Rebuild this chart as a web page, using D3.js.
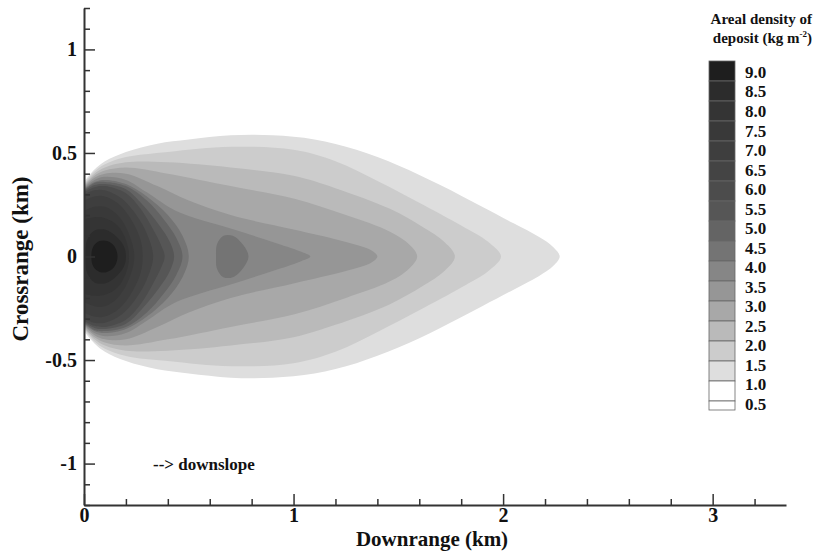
<!DOCTYPE html>
<html>
<head>
<meta charset="utf-8">
<script src="https://cdn.jsdelivr.net/npm/d3@7"></script>
<style>
  body { margin: 0; background: #fff; }
  text { font-family: "Liberation Serif", "Times New Roman", serif; font-weight: bold; fill: #111; }
</style>
</head>
<body>
<svg width="817" height="552"></svg>
<script>
// legend levels (top to bottom) and their gray shade
const legendLabels = ["9.0", "8.5", "8.0", "7.5", "7.0", "6.5", "6.0", "5.5", "5.0", "4.5", "4.0", "3.5", "3.0", "2.5", "2.0", "1.5", "1.0", "0.5"];
const legendGrays = [30, 44, 52, 57, 62, 68, 76, 86, 100, 116, 134, 150, 168, 186, 204, 222, 255, 255];

// contour levels, each as the upper half of its outline [downrange km, crossrange km]
// (the plume is close to symmetric about crossrange 0)
const contourLevels = ["1.5", "2.0", "2.5", "3.0", "3.5", "4.0", "4.5", "5.0", "5.5", "6.0", "6.5", "7.0", "7.5", "8.0", "8.5", "9.0"];
const contourUpper = [
  [[0, 0.36], [0.05, 0.42], [0.1, 0.46], [0.2, 0.505], [0.35, 0.545], [0.5, 0.565], [0.7, 0.585], [0.9, 0.585], [1.1, 0.565], [1.3, 0.515], [1.5, 0.44], [1.7, 0.345], [1.9, 0.24], [2.05, 0.16], [2.17, 0.095], [2.24, 0.045], [2.27, 0]],
  [[0, 0.35], [0.05, 0.41], [0.1, 0.445], [0.2, 0.48], [0.4, 0.505], [0.7, 0.53], [1.0, 0.515], [1.2, 0.46], [1.41, 0.36], [1.6, 0.26], [1.8, 0.15], [1.93, 0.07], [1.99, 0]],
  [[0, 0.345], [0.05, 0.40], [0.1, 0.43], [0.2, 0.455], [0.4, 0.455], [0.7, 0.43], [1.0, 0.39], [1.2, 0.33], [1.46, 0.23], [1.62, 0.14], [1.72, 0.07], [1.77, 0]],
  [[0, 0.34], [0.05, 0.39], [0.1, 0.415], [0.2, 0.43], [0.4, 0.40], [0.7, 0.34], [1.0, 0.28], [1.25, 0.2], [1.46, 0.12], [1.55, 0.06], [1.59, 0]],
  [[0, 0.335], [0.05, 0.38], [0.1, 0.40], [0.2, 0.40], [0.35, 0.34], [0.5, 0.27], [0.7, 0.2], [1.0, 0.13], [1.25, 0.07], [1.37, 0.03], [1.40, 0]],
  [[0, 0.33], [0.05, 0.37], [0.1, 0.385], [0.2, 0.37], [0.3, 0.31], [0.44, 0.22], [0.7, 0.135], [0.9, 0.07], [1.03, 0.025], [1.08, 0]],
  [[0, 0.325], [0.05, 0.36], [0.1, 0.37], [0.2, 0.35], [0.3, 0.29], [0.4, 0.2], [0.47, 0.1], [0.5, 0]],
  [[0, 0.32], [0.05, 0.355], [0.1, 0.36], [0.2, 0.34], [0.3, 0.27], [0.38, 0.18], [0.44, 0.09], [0.47, 0]],
  [[0, 0.315], [0.05, 0.345], [0.1, 0.35], [0.2, 0.325], [0.28, 0.25], [0.36, 0.15], [0.41, 0.07], [0.43, 0]],
  [[0, 0.31], [0.05, 0.335], [0.1, 0.34], [0.2, 0.305], [0.27, 0.23], [0.33, 0.13], [0.37, 0.05], [0.385, 0]],
  [[0, 0.30], [0.05, 0.32], [0.1, 0.32], [0.18, 0.28], [0.25, 0.2], [0.3, 0.11], [0.33, 0]],
  [[0, 0.27], [0.05, 0.29], [0.1, 0.29], [0.17, 0.25], [0.23, 0.17], [0.27, 0.08], [0.28, 0]],
  [[0, 0.22], [0.05, 0.24], [0.1, 0.24], [0.16, 0.2], [0.21, 0.12], [0.24, 0]],
  [[0, 0.18], [0.05, 0.19], [0.1, 0.185], [0.16, 0.15], [0.2, 0.08], [0.215, 0]],
  [[0.005, 0], [0.015, 0.08], [0.05, 0.125], [0.1, 0.13], [0.15, 0.1], [0.19, 0.05], [0.2, 0]],
  [[0.035, 0], [0.045, 0.05], [0.075, 0.075], [0.11, 0.075], [0.145, 0.05], [0.16, 0]]
];
// local maximum behind the core, sitting on the 4.0 tongue
const islandLevel = "4.5";
const islandUpper = [[0.63, 0], [0.635, 0.06], [0.665, 0.1], [0.71, 0.1], [0.76, 0.055], [0.785, 0]];

const xMajor = [0, 1, 2, 3];
const xMinor = [0.2, 0.4, 0.6, 0.8, 1.2, 1.4, 1.6, 1.8, 2.2, 2.4, 2.6, 2.8, 3.2];
const yMajor = [-1, -0.5, 0, 0.5, 1];
const yMinor = [-1.2, -1.1, -0.9, -0.8, -0.7, -0.6, -0.4, -0.3, -0.2, -0.1, 0.1, 0.2, 0.3, 0.4, 0.6, 0.7, 0.8, 0.9, 1.1, 1.2];

const svg = d3.select("svg");
const gray = (v) => d3.rgb(v, v, v).toString();
const shade = (lvl) => gray(legendGrays[legendLabels.indexOf(lvl)]);

const x = d3.scaleLinear().domain([0, 3.35]).range([84, 786]);
const y = d3.scaleLinear().domain([-1.2, 1.2]).range([505, 8]);

svg.append("clipPath").attr("id", "plot")
  .append("rect")
  .attr("x", x(0)).attr("y", y(1.2))
  .attr("width", x(3.35) - x(0)).attr("height", y(-1.2) - y(1.2));

// mirror the upper half into a full outline
function outline(upper) {
  const lower = upper.slice(0, -1).reverse().map(([a, b]) => [a, -b]);
  return upper.concat(lower);
}

const openLine = d3.line().x((d) => x(d[0])).y((d) => y(d[1])).curve(d3.curveCatmullRom.alpha(0.5));
const closedLine = d3.line().x((d) => x(d[0])).y((d) => y(d[1])).curve(d3.curveCatmullRomClosed.alpha(0.5));

const fills = svg.append("g").attr("clip-path", "url(#plot)");

contourUpper.forEach((upper, i) => {
  const pts = outline(upper);
  const touchesEdge = upper[0][0] === 0;
  fills.append("path")
    .attr("d", touchesEdge ? openLine(pts) + "Z" : closedLine(pts.slice(0, -1)))
    .attr("fill", shade(contourLevels[i]));
  if (contourLevels[i] === "4.0") {
    fills.append("path")
      .attr("d", closedLine(outline(islandUpper).slice(0, -1)))
      .attr("fill", shade(islandLevel));
  }
});

// axes
function styleAxis(g) {
  g.selectAll("path.domain").attr("stroke", "#333").attr("stroke-width", 2);
  g.selectAll(".tick line").attr("stroke", "#333").attr("stroke-width", 1.5);
  g.selectAll("text").style("font-size", "20px").attr("fill", "#111");
}

svg.append("g")
  .attr("transform", `translate(0, ${y(-1.2)})`)
  .call(d3.axisBottom(x).tickValues(xMinor).tickFormat("").tickSizeInner(-6).tickSizeOuter(0))
  .call(styleAxis);

svg.append("g")
  .attr("transform", `translate(0, ${y(-1.2)})`)
  .call(d3.axisBottom(x).tickValues(xMajor).tickFormat(d3.format("d")).tickSizeInner(-11).tickSizeOuter(0).tickPadding(3))
  .call(styleAxis)
  .call((g) => g.select("path.domain").remove());

svg.append("g")
  .attr("transform", `translate(${x(0)}, 0)`)
  .call(d3.axisLeft(y).tickValues(yMinor).tickFormat("").tickSizeInner(-6).tickSizeOuter(0))
  .call(styleAxis);

svg.append("g")
  .attr("transform", `translate(${x(0)}, 0)`)
  .call(d3.axisLeft(y).tickValues(yMajor).tickFormat((d) => d).tickSizeInner(-11).tickSizeOuter(0).tickPadding(7))
  .call(styleAxis)
  .call((g) => g.select("path.domain").remove());

// axis titles
svg.append("text")
  .attr("x", 432).attr("y", 546)
  .attr("text-anchor", "middle")
  .style("font-size", "21px")
  .text("Downrange (km)");

svg.append("text")
  .attr("transform", "translate(28, 259) rotate(-90)")
  .attr("text-anchor", "middle")
  .style("font-size", "23px")
  .text("Crossrange (km)");

svg.append("text")
  .attr("x", 153).attr("y", 470)
  .style("font-size", "17px")
  .text("--> downslope");

// legend
const legend = svg.append("g");
legend.append("text")
  .attr("x", 812).attr("y", 24)
  .attr("text-anchor", "end")
  .style("font-size", "15px")
  .text("Areal density of");
legend.append("text")
  .attr("x", 812).attr("y", 43)
  .attr("text-anchor", "end")
  .style("font-size", "15px")
  .html("deposit (kg m<tspan dy='-6' style='font-size:9px'>-2</tspan><tspan dy='6'>)</tspan>");

const boxY = d3.scaleBand().domain(legendLabels.slice(0, -1)).range([61, 401]);
legend.selectAll("rect.box")
  .data(legendLabels.slice(0, -1))
  .enter()
  .append("rect")
  .attr("class", "box")
  .attr("x", 709).attr("y", (d) => boxY(d))
  .attr("width", 26).attr("height", boxY.bandwidth())
  .attr("fill", (d) => shade(d))
  .attr("stroke", "#666").attr("stroke-width", 0.8);
legend.append("rect")
  .attr("x", 709).attr("y", 401)
  .attr("width", 26).attr("height", 9)
  .attr("fill", shade("0.5"))
  .attr("stroke", "#666").attr("stroke-width", 0.8);

const labelY = d3.scalePoint().domain(legendLabels).range([72, 404]);
legend.selectAll("text.lab")
  .data(legendLabels)
  .enter()
  .append("text")
  .attr("class", "lab")
  .attr("x", 745).attr("y", (d) => labelY(d))
  .attr("dy", "0.35em")
  .style("font-size", "17px")
  .text((d) => d);
</script>
</body>
</html>
